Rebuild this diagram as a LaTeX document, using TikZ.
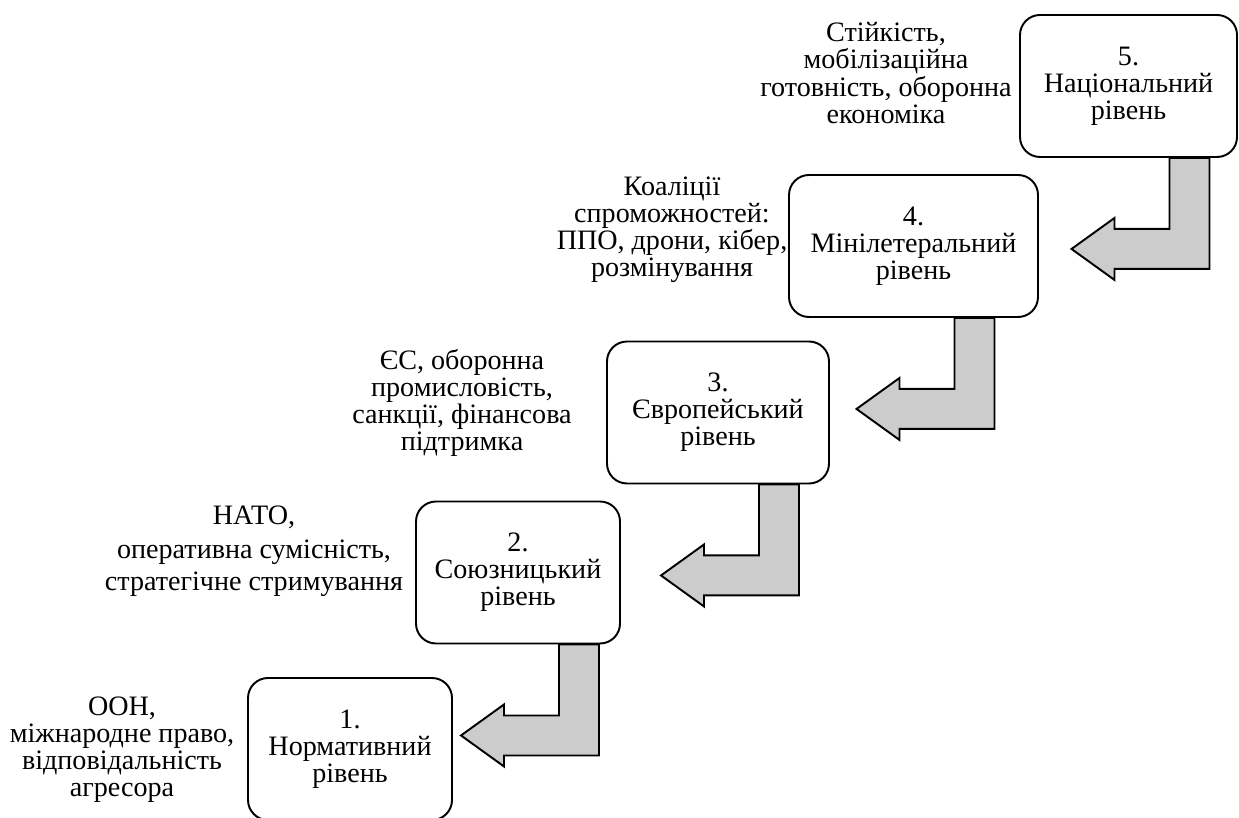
\documentclass[tikz,border=0pt]{standalone}
\usepackage{fontspec}
\setmainfont{Liberation Serif}
\usetikzlibrary{calc}

\tikzset{
    level/.style={draw, line width=1.1pt, rounded corners=0.4cm, align=center,
        minimum height=2.84cm, inner sep=2pt},
    note/.style={align=center},
    bentarrow/.style={draw, line width=1.1pt, fill=black!20, line join=miter}
}

% bent arrow hanging from the bottom of a level box: #1 = stem corner, #2 = tip
\newcommand{\levelarrow}[2]{%
    \filldraw[bentarrow] let \p1=(#1), \p2=(#2) in
        (\x1,\y1) -- (\x1,\y2-0.4cm) -- (\x2+0.86cm,\y2-0.4cm) -- (\x2+0.86cm,\y2-0.62cm)
        -- (\x2,\y2) -- (\x2+0.86cm,\y2+0.62cm) -- (\x2+0.86cm,\y2+0.4cm)
        -- (\x1-0.8cm,\y2+0.4cm) -- (\x1-0.8cm,\y1) -- cycle;
}

\begin{document}
\begin{tikzpicture}[font=\fontsize{16}{15.4}\selectfont]
    \useasboundingbox (0,0) rectangle (24.78,16.34);

    % --- levels ---
    \node[level, minimum width=4.08cm] (b1) at (7.00, 1.36) {1.\\Нормативний\\рівень};
    \node[level, minimum width=4.08cm] (b2) at (10.36, 4.89) {2.\\Союзницький\\рівень};
    \node[level, minimum width=4.44cm] (b3) at (14.36, 8.09) {3.\\Європейський\\рівень};
    \node[level, minimum width=4.98cm] (b4) at (18.27, 11.42) {4.\\Мінілетеральний\\рівень};
    \node[level, minimum width=4.34cm] (b5) at (22.57, 14.62) {5.\\Національний\\рівень};

    % --- notes beside the levels ---
    \node[note] (n1) at (2.44, 1.34) {ООН,\\міжнародне право,\\відповідальність\\агресора};
    \node[note] (n2) at (5.08, 5.32) {НАТО,\\[4pt]оперативна сумісність,\\[3pt]стратегічне стримування};
    \node[note] (n3) at (9.24, 8.28) {ЄС, оборонна\\промисловість,\\санкції, фінансова\\підтримка};
    \node[note] (n4) at (13.44, 11.74) {Коаліції\\спроможностей:\\ППО, дрони, кібер,\\розмінування};
    \node[note] (n5) at (17.72, 14.88) {Стійкість,\\мобілізаційна\\готовність, оборонна\\економіка};

    % --- arrows down the stairs ---
    \foreach \a/\b in {5/4, 4/3, 3/2, 2/1} {
        \coordinate (s\a) at ($(b\a.south)+(1.62,0)$);
        \coordinate (t\a\b) at ($(b\a.south)+(-1.14,-1.82)$);
        \levelarrow{s\a}{t\a\b}
    }
\end{tikzpicture}
\end{document}
